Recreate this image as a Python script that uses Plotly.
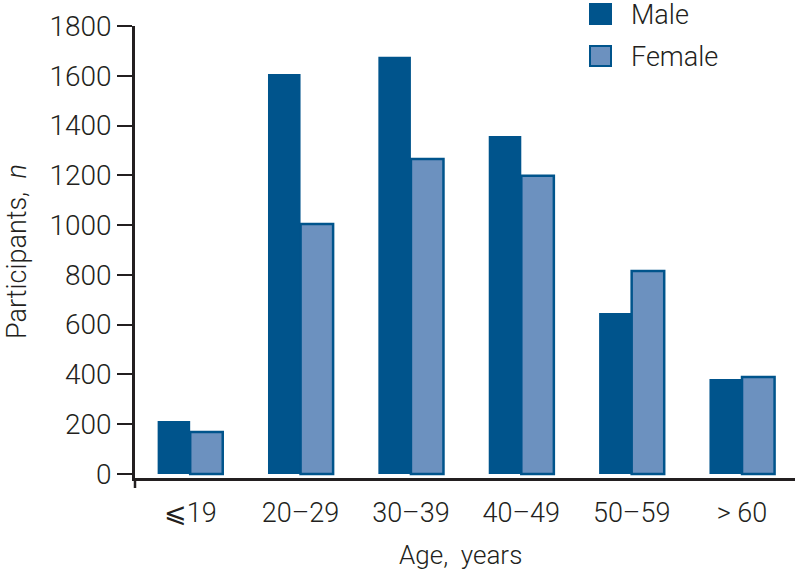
import plotly.graph_objects as go

categories = ["⩽19", "20–29", "30–39", "40–49", "50–59", "> 60"]
male = [213, 1607, 1676, 1358, 647, 382]
female = [169, 1004, 1266, 1198, 816, 390]
y_ticks = [0, 200, 400, 600, 800, 1000, 1200, 1400, 1600, 1800]

MALE_C = "#00548C"
FEMALE_C = "#6C91BF"
INK = "#231F20"
FONT = "Roboto"
FW = 300

L, T, R, B = 135, 26, 6, 97
W, H = 801, 575
PW, PH = W - L - R, H - T - B

def px(x):
    return (x - L) / PW

def py(y):
    return (H - B - y) / PH

def f(size=27):
    return dict(family=FONT, size=size, color=INK, weight=FW)

fig = go.Figure()
fig.add_trace(go.Bar(name="Male", x=categories, y=male, marker=dict(color=MALE_C, line=dict(width=0))))
fig.add_trace(go.Bar(name="Female", x=categories, y=female,
                     marker=dict(color=FEMALE_C, line=dict(color=MALE_C, width=2.5))))

fig.update_layout(
    width=W, height=H,
    margin=dict(l=L, r=R, t=T, b=B, autoexpand=False),
    plot_bgcolor="white", paper_bgcolor="white",
    barmode="group", bargap=0.41, bargroupgap=0,
    showlegend=False,
    font=f(),
)
fig.update_xaxes(
    type="category", range=[-0.5, 5.48], automargin=False,
    showline=True, linecolor=INK, linewidth=3,
    ticks="", showgrid=False, zeroline=False,
    tickfont=f(27), ticklabelstandoff=9,
)
fig.update_yaxes(
    range=[-16, 1800], tickvals=y_ticks, automargin=False,
    showline=True, linecolor=INK, linewidth=2.5,
    ticks="outside", ticklen=15, tickwidth=1.5, tickcolor=INK,
    showgrid=False, zeroline=False,
    tickfont=f(28),
)
# axis titles
fig.add_annotation(xref="paper", yref="paper", x=px(460), y=py(555),
                   text="Age,\u00a0 years", showarrow=False,
                   xanchor="center", yanchor="middle", font=f(26))
fig.add_annotation(xref="paper", yref="paper", x=px(17), y=py(251),
                   text="Participants,\u00a0 <i>n</i>", showarrow=False, textangle=-90,
                   xanchor="center", yanchor="middle", font=f(27))

# y-axis line extends a little below the x-axis
fig.add_shape(type="line", xref="paper", yref="paper", x0=0, x1=0, y0=0, y1=py(488),
              line=dict(color=INK, width=2.5))

# legend (manual, to match square size)
leg = [("Male", MALE_C, MALE_C, 0.0), ("Female", FEMALE_C, MALE_C, 42.0)]
for name, fill, edge, dy in leg:
    y_top = 4 + dy
    fig.add_shape(type="rect", xref="paper", yref="paper",
                  x0=px(590), x1=px(611),
                  y0=py(y_top + 20), y1=py(y_top),
                  fillcolor=fill, line=dict(color=edge, width=2))
    fig.add_annotation(xref="paper", yref="paper", x=px(630),
                       y=py(y_top + 11), text=name, showarrow=False, borderpad=0,
                       xanchor="left", yanchor="middle", font=f(27))

fig.write_html("out.html", config={"displayModeBar": False},
               post_script="document.body.style.margin='0';document.body.style.padding='0';")
